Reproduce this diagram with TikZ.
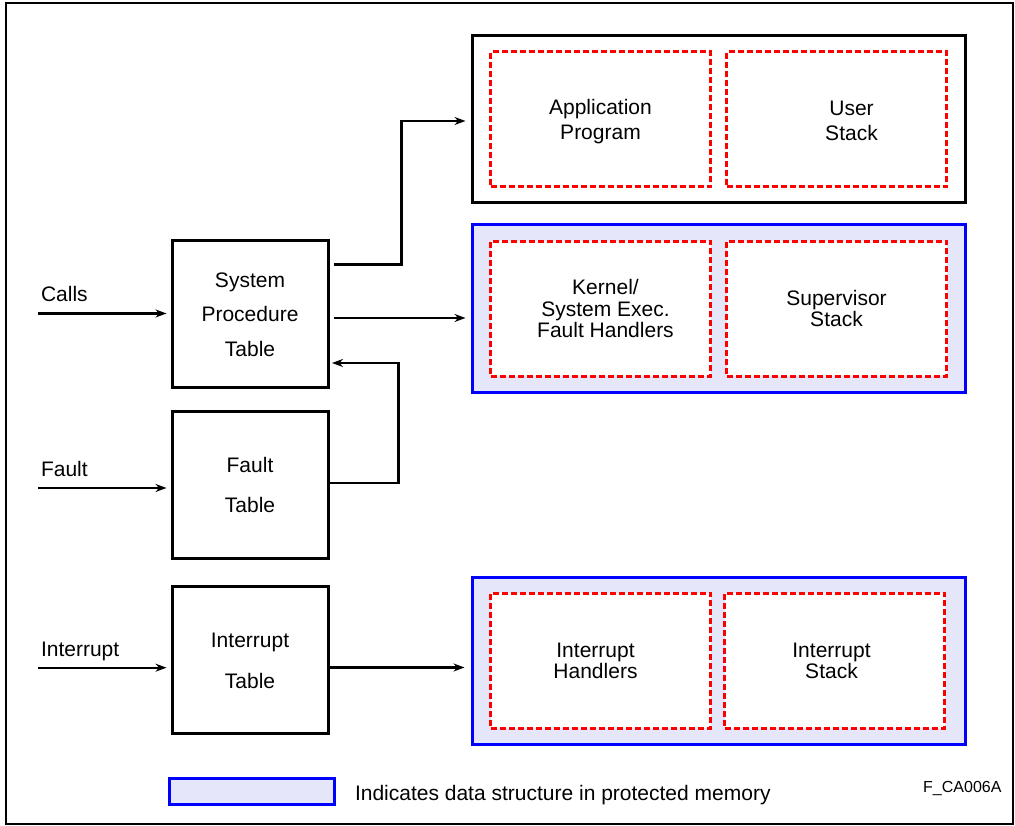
\documentclass[tikz,border=0pt]{standalone}
\usepackage{fontspec}
\setmainfont{Liberation Sans}
\usetikzlibrary{arrows.meta,positioning}
\definecolor{protfill}{RGB}{230,230,250}
\begin{document}
\begin{tikzpicture}[x=1pt,y=1pt,font=\fontsize{21}{25}\selectfont,
  tablebox/.style={draw,line width=3pt,minimum width=156pt,minimum height=147pt,align=center},
  membox/.style={draw,line width=3pt,minimum width=493pt,minimum height=167.5pt},
  protbox/.style={membox,draw=blue,fill=protfill},
  areabox/.style={draw=red,fill=white,line width=3pt,dash pattern=on 6pt off 3pt,minimum width=220pt,minimum height=135pt,align=center},
  flow/.style={line width=2.2pt,-{Stealth[length=11pt,width=8pt]}}]
 \useasboundingbox (0,0) rectangle (1015,826);
 \draw[line width=2.5pt] (6,2) rectangle (1013,823);
 \node[tablebox,font=\fontsize{21}{34.5}\selectfont] (spt) at (250,511.5) {System\\Procedure\\Table};
 \node[tablebox,font=\fontsize{21}{40}\selectfont] (fault) at (250,341) {Fault\\Table};
 \node[tablebox,font=\fontsize{21}{41}\selectfont] (intr) at (250,165.5) {Interrupt\\Table};
 \node[membox] (usermem) at (718.5,707) {};
 \node[protbox] (kernmem) at (718.5,517.5) {};
 \node[protbox] (intrmem) at (718.5,165) {};
 \node[areabox,label={[align=center,yshift=-2.5pt]center:Application\\Program}] (appprog) at (600.5,706.5) {};
 \node[areabox,label={[align=center,xshift=15pt,yshift=-1pt]center:User\\Stack}] (usrstack) at (836.5,706.5) {};
 \node[areabox,label={[align=center,font=\fontsize{21}{21.5}\selectfont,xshift=5pt]center:Kernel/\\System Exec.\\Fault Handlers}] (kernel) at (600.5,517.25) {};
 \node[areabox,font=\fontsize{21}{21.5}\selectfont] (supstack) at (836.5,517.25) {Supervisor\\Stack};
 \node[areabox,label={[align=center,font=\fontsize{21}{21.5}\selectfont,xshift=-5pt]center:Interrupt\\Handlers}] (intrhand) at (600.5,165) {};
 \node[areabox,label={[align=center,font=\fontsize{21}{21.5}\selectfont,xshift=-3pt]center:Interrupt\\Stack}] (intrstack) at (834.5,165) {};
 \coordinate (callsin) at (38,512.5);
 \coordinate (faultin) at (38,338);
 \coordinate (intrin) at (38,158.3);
 \node[anchor=base west] (callslbl) at ([shift={(-0.5,11.5)}]callsin) {Calls};
 \node[anchor=base west] (faultlbl) at ([shift={(-0.5,11.5)}]faultin) {Fault};
 \node[anchor=base west] (intrlbl) at ([shift={(-0.5,11.5)}]intrin) {Interrupt};
 \draw[flow,shorten >=4pt] (callsin) -- (callsin -| spt.west);
 \draw[flow,shorten >=4pt] (faultin) -- (faultin -| fault.west);
 \draw[flow,shorten >=4pt] (intrin) -- (intrin -| intr.west);
 \coordinate (sptup) at ([shift={(4,50)}]spt.east);
 \coordinate (sptout) at ([shift={(4,-3.5)}]spt.east);
 \coordinate (introut) at ([yshift=-7pt]intr.east);
 \draw[flow,shorten >=5pt] (sptup) -- ++(68,0) |- ([yshift=-2pt]usermem.west);
 \draw[flow,shorten >=5pt] (sptout) -- (sptout -| kernmem.west);
 \draw[flow,shorten >=2.5pt] ([yshift=2.3pt]fault.east) -- ++(69,0) |- ([yshift=-48.5pt]spt.east);
 \draw[flow,shorten >=6pt] (introut) -- (introut -| intrmem.west);
 \node[draw=blue,fill=protfill,line width=3pt,minimum width=165pt,minimum height=26pt] (legbox) at (251.5,34) {};
 \node[anchor=base west] (legtxt) at (351.5,25) {Indicates data structure in protected memory};
 \node[anchor=base east,font=\fontsize{16}{19}\selectfont] (figid) at (1005,33.3) {F\_CA006A};
\end{tikzpicture}
\end{document}
